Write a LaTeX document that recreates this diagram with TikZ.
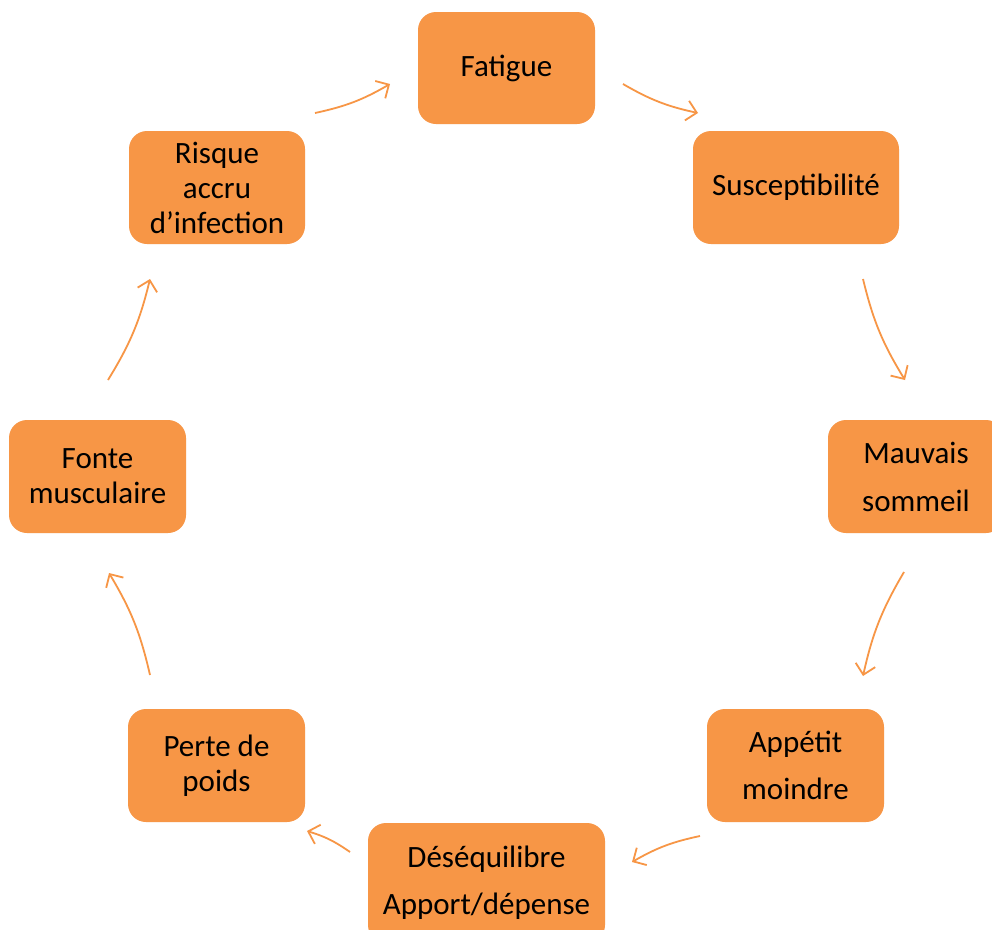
\documentclass[tikz,border=0pt]{standalone}
\usepackage{fontspec}
\setmainfont{Carlito}
\usetikzlibrary{arrows.meta}
\definecolor{boxorange}{HTML}{F79646}
\tikzset{
  cyclebox/.style={fill=boxorange, rounded corners=18pt, inner sep=0pt, align=center,
    font=\fontsize{31}{35}\selectfont, text=black},
  cyclearrow/.style={draw=boxorange, line width=1.8pt, -{Straight Barb[length=10pt,width=20pt,line width=1.8pt]}, bend right=9}
}
\begin{document}
\begin{tikzpicture}[x=1pt,y=-1pt]
\useasboundingbox (0,0) rectangle (992,929);
\clip (0,0) rectangle (992,929);
\fill[white] (0,0) rectangle (992,929);
% boxes
\node[cyclebox, minimum width=177pt, minimum height=112pt] (fat) at (506.5,68) {Fatigue};
\node[cyclebox, minimum width=206pt, minimum height=113pt] (sus) at (796,187.5) {Susceptibilité};
\node[cyclebox, minimum width=176pt, minimum height=113pt, font=\fontsize{31}{48}\selectfont] (mau) at (916,476.5) {Mauvais\\sommeil};
\node[cyclebox, minimum width=177pt, minimum height=113pt, font=\fontsize{31}{47}\selectfont] (app) at (795.5,765.5) {Appétit\\moindre};
\node[cyclebox, minimum width=237pt, minimum height=120pt, font=\fontsize{31}{47}\selectfont] (des) at (486.5,883) {Déséquilibre\\Apport/dépense};
\node[cyclebox, minimum width=177pt, minimum height=113pt, font=\fontsize{31}{35}\selectfont] (per) at (216.5,765.5) {Perte de\\poids};
\node[cyclebox, minimum width=177pt, minimum height=113pt, font=\fontsize{31}{35}\selectfont] (fon) at (97.5,476.5) {Fonte\\musculaire};
\node[cyclebox, minimum width=176pt, minimum height=113pt, font=\fontsize{31}{35}\selectfont] (ris) at (217,187.5) {Risque\\accru\\d’infection};
% arrow end points
\coordinate (a1s) at (315,113); \coordinate (a1e) at (390,84);
\coordinate (a2s) at (623,84);  \coordinate (a2e) at (698,113);
\coordinate (a3s) at (863,279); \coordinate (a3e) at (905,380);
\coordinate (a4s) at (904,572); \coordinate (a4e) at (863,676);
\coordinate (a5s) at (700,836); \coordinate (a5e) at (632,862);
\coordinate (a6s) at (350,852); \coordinate (a6e) at (307,831);
\coordinate (a7s) at (150,675); \coordinate (a7e) at (109,573);
\coordinate (a8s) at (108,380); \coordinate (a8e) at (150,279);
\foreach \i in {1,...,8} {\draw[cyclearrow] (a\i s) to (a\i e);}
\end{tikzpicture}
\end{document}
